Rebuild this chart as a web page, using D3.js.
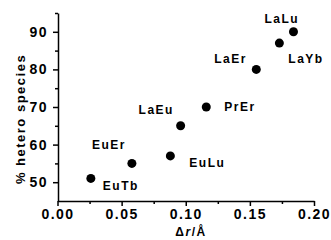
<!DOCTYPE html>
<html>
<head>
  <meta charset="utf-8">
  <title>Hetero species vs delta r</title>
  <script src="https://cdnjs.cloudflare.com/ajax/libs/d3/7.8.5/d3.min.js"></script>
  <style>
    body { margin: 0; background: #fff; }
    text { font-family: "Liberation Sans", Arial, sans-serif; font-weight: bold; letter-spacing: 1.5px; }
  </style>
</head>
<body>
<div id="chart"></div>
<script>

var pairs = ['EuTb', 'EuEr', 'EuLu', 'LaEu', 'PrEr', 'LaEr', 'LaYb', 'LaLu'];
var deltaR = [0.026, 0.058, 0.088, 0.096, 0.116, 0.155, 0.173, 0.184];
var hetero = [51, 55, 57, 65, 70, 80, 87, 90];
var xTicks = [0, 0.05, 0.10, 0.15, 0.20];
var yTicks = [50, 60, 70, 80, 90];

// label offsets from each dot, in pixels
var labelOffset = {
  EuTb: [12, 12], EuEr: [-40, -14], EuLu: [19, 11], LaEu: [-42, -12],
  PrEr: [18, 4], LaEr: [-42, -6], LaYb: [9, 20], LaLu: [-29, -9]
};

var width = 331, height = 240;

var svg = d3.select('#chart').append('svg')
            .attr('width', width)
            .attr('height', height);

var x = d3.scaleLinear().domain([0, 0.2]).range([57.5, 314]);
var y = d3.scaleLinear().domain([45, 95]).range([201, 13]);

// minor ticks first, then the labelled axes on top
svg.append('g')
   .attr('transform', 'translate(0,201)')
   .call(d3.axisBottom(x).tickValues([0.025, 0.075, 0.125, 0.175]).tickSize(3).tickFormat(''))
   .call(function(g) { g.select('.domain').remove(); });

svg.append('g')
   .attr('transform', 'translate(58,0)')
   .call(d3.axisLeft(y).tickValues([55, 65, 75, 85, 95]).tickSize(3).tickFormat(''))
   .call(function(g) { g.select('.domain').remove(); });

var xAxis = svg.append('g')
   .attr('transform', 'translate(0,201)')
   .call(d3.axisBottom(x).tickValues(xTicks).tickSize(5).tickSizeOuter(0).tickPadding(3).tickFormat(d3.format('.2f')));

var yAxis = svg.append('g')
   .attr('transform', 'translate(58,0)')
   .call(d3.axisLeft(y).tickValues(yTicks).tickSize(5).tickSizeOuter(0).tickPadding(5));

svg.selectAll('.tick line, .domain').attr('stroke', '#000').attr('stroke-width', 1.5);
svg.selectAll('.tick text').attr('font-size', 14).attr('fill', '#000')
   .attr('font-family', '"Liberation Sans", Arial, sans-serif').attr('font-weight', 'bold');

// axis titles
svg.append('text')
   .attr('transform', 'translate(25,119) rotate(-90)')
   .attr('text-anchor', 'middle')
   .attr('font-size', 13)
   .text('% hetero species');

var xt = svg.append('text')
   .attr('x', 191)
   .attr('y', 236)
   .attr('text-anchor', 'middle')
   .attr('font-size', 12);
xt.append('tspan').text('\u0394');
xt.append('tspan').attr('font-style', 'italic').text('r');
xt.append('tspan').text('/\u00c5');

// points
svg.selectAll('circle')
   .data(pairs)
   .enter()
   .append('circle')
   .attr('cx', function(d, i) { return x(deltaR[i]); })
   .attr('cy', function(d, i) { return y(hetero[i]); })
   .attr('r', 4.5)
   .attr('fill', '#000');

svg.selectAll('text.lbl')
   .data(pairs)
   .enter()
   .append('text')
   .attr('class', 'lbl')
   .attr('x', function(d, i) { return x(deltaR[i]) + labelOffset[d][0]; })
   .attr('y', function(d, i) { return y(hetero[i]) + labelOffset[d][1]; })
   .attr('font-size', 12)
   .text(function(d) { return d; });

</script>
</body>
</html>
